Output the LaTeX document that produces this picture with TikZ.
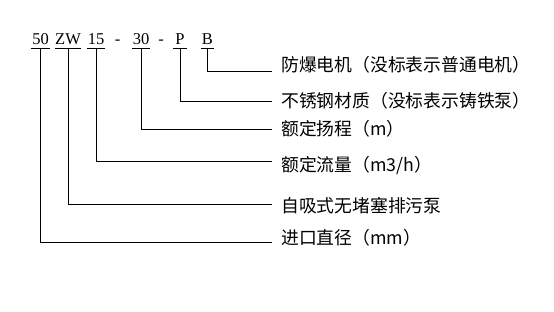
\documentclass[tikz,border=0pt]{standalone}
\usepackage{fontspec}
\setmainfont{Liberation Serif}
\newfontfamily\cjk{Noto Sans CJK SC}
\usetikzlibrary{positioning}

\begin{document}
\begin{tikzpicture}[
                x=1pt, y=-1pt,
                code/.style={anchor=base, inner xsep=0pt, inner ysep=4.5pt, text depth=0pt, minimum width=18pt, font=\fontsize{16.5}{18}\selectfont},
                letter/.style={code, minimum width=13pt},
                dashmark/.style={anchor=base, inner sep=0pt, font=\fontsize{16.5}{18}\selectfont},
                desc/.style={anchor=west, inner sep=0pt, font=\fontsize{17.8}{19}\selectfont\cjk},
                leader/.style={line width=0.9pt, draw=black}
            ]
\useasboundingbox (0,0) rectangle (554,311);

% model code
\node[code] (c50) at (40.5,44) {50};
            \node[code] (cZW) at (68,44) {ZW};
            \node[code] (c15) at (96,44) {15};
            \node[dashmark] (d1) at (117.5,44) {-};
            \node[code] (c30) at (141,44) {30};
            \node[dashmark] (d2) at (161,44) {-};
            \node[letter] (cP) at (180,44) {P};
            \node[letter] (cB) at (207.5,44) {B};

% meanings
\node[desc] (lB) at (281,64.5) {防爆电机（没标表示普通电机）};
            \node[desc] (lP) at (281,101) {不锈钢材质（没标表示铸铁泵）};
            \node[desc] (l30) at (281,129) {额定扬程（m）};
            \node[desc] (l15) at (281,165) {额定流量（m3/h）};
            \node[desc] (lZW) at (281,206) {自吸式无堵塞排污泵};
            \node[desc] (l50) at (281,238) {进口直径（mm）};

% underlines
\foreach \c in {c50,cZW,c15,c30,cP,cB}
                \draw[leader] (\c.south west) -- (\c.south east);

% leaders
\draw[leader] (cB.south) |- ([xshift=-9pt,yshift=-7pt]lB.west);
            \draw[leader] (cP.south) |- ([xshift=-9pt]lP.west);
            \draw[leader] (c30.south) |- ([xshift=-9pt]l30.west);
            \draw[leader] (c15.south) |- ([xshift=-9pt,yshift=3.7pt]l15.west);
            \draw[leader] (cZW.south) |- ([xshift=-9pt,yshift=2pt]lZW.west);
            \draw[leader] (c50.south) |- ([xshift=-9pt,yshift=-4pt]l50.west);

\end{tikzpicture}
\end{document}
